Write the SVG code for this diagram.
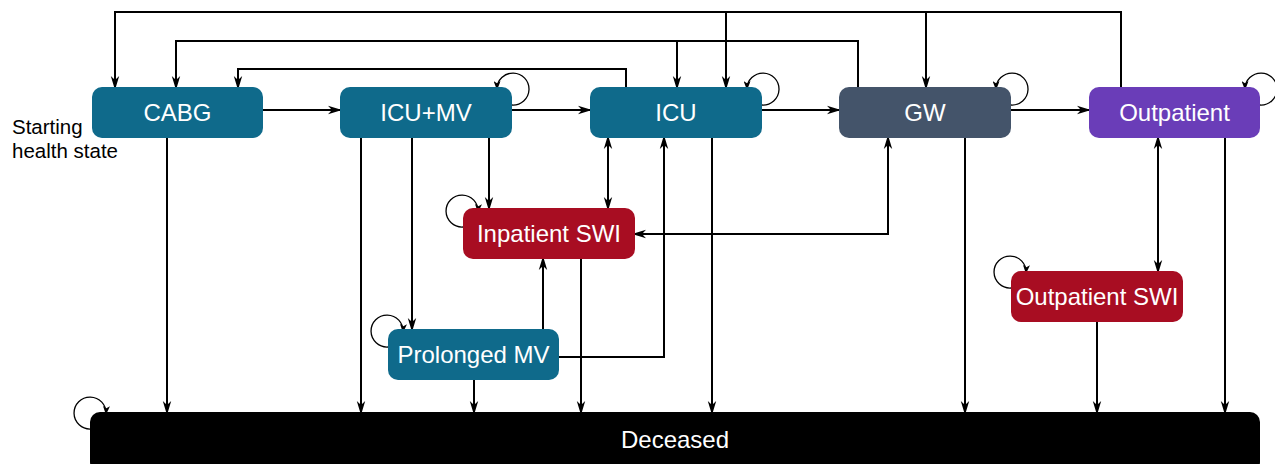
<svg xmlns="http://www.w3.org/2000/svg" width="1275" height="464" viewBox="0 0 1275 464">
  <style>
    .node text { font-family: "Liberation Sans", Arial, sans-serif; font-size: 24px; fill: #ffffff; text-anchor: middle; }
    .teal { fill: #0f6a8b; }
    .slate { fill: #44546a; }
    .purple { fill: #6a3db8; }
    .red { fill: #a80d22; }
    .black { fill: #000000; }
    .conn { fill: none; stroke: #000; stroke-width: 2; }
    .loop { fill: none; stroke: #000; stroke-width: 1.3; }
    .label { font-family: "Liberation Sans", Arial, sans-serif; font-size: 20.5px; fill: #000; }
  </style>
  <defs>
    <marker id="ah" viewBox="0 0 14 10" refX="13" refY="5" markerWidth="14" markerHeight="10" orient="auto-start-reverse" markerUnits="userSpaceOnUse">
      <path d="M0,0.8 L14,5 L0,9.2 L4,5 Z" fill="#000"/>
    </marker>
    <marker id="ahs" viewBox="0 0 10 8" refX="9" refY="4" markerWidth="9" markerHeight="7" orient="auto" markerUnits="userSpaceOnUse">
      <path d="M0,0 L10,4 L0,8 L2.5,4 Z" fill="#000"/>
    </marker>
  </defs>
  <rect width="1275" height="464" fill="#ffffff"/>

  <text class="label" x="12" y="134">Starting</text>
  <text class="label" x="12" y="158">health state</text>

  <g id="node-deceased" class="node">
    <rect class="black" x="90" y="412" width="1170" height="60" rx="10"/>
    <text x="675" y="448">Deceased</text>
  </g>

  <g id="connectors">
    <path class="conn" d="M263,110 H341" marker-end="url(#ah)"/>
    <path class="conn" d="M512,110 H591" marker-end="url(#ah)"/>
    <path class="conn" d="M762,110 H840" marker-end="url(#ah)"/>
    <path class="conn" d="M1011,110 H1090" marker-end="url(#ah)"/>
    <path class="conn" d="M1121,87 V12 H115 V89" marker-end="url(#ah)"/>
    <path class="conn" d="M726,12 V89" marker-end="url(#ah)"/>
    <path class="conn" d="M926,12 V89" marker-end="url(#ah)"/>
    <path class="conn" d="M858,87 V41 H176 V89" marker-end="url(#ah)"/>
    <path class="conn" d="M677,41 V89" marker-end="url(#ah)"/>
    <path class="conn" d="M626,87 V69 H238 V89" marker-end="url(#ah)"/>
    <path class="conn" d="M167,138 V414" marker-end="url(#ah)"/>
    <path class="conn" d="M361,138 V414" marker-end="url(#ah)"/>
    <path class="conn" d="M412,138 V331" marker-end="url(#ah)"/>
    <path class="conn" d="M489,138 V210" marker-end="url(#ah)"/>
    <path class="conn" d="M608,136 V210" marker-start="url(#ah)" marker-end="url(#ah)"/>
    <path class="conn" d="M559,357 H664 V136" marker-end="url(#ah)"/>
    <path class="conn" d="M543,329 V257" marker-end="url(#ah)"/>
    <path class="conn" d="M474,380 V414" marker-end="url(#ah)"/>
    <path class="conn" d="M581,259 V414" marker-end="url(#ah)"/>
    <path class="conn" d="M712,138 V414" marker-end="url(#ah)"/>
    <path class="conn" d="M633,234 H888 V136" marker-start="url(#ah)" marker-end="url(#ah)"/>
    <path class="conn" d="M965,138 V414" marker-end="url(#ah)"/>
    <path class="conn" d="M1158,136 V273" marker-start="url(#ah)" marker-end="url(#ah)"/>
    <path class="conn" d="M1097,322 V414" marker-end="url(#ah)"/>
    <path class="conn" d="M1225,138 V414" marker-end="url(#ah)"/>
    <!-- self loops -->
    <path class="loop" d="M512,105 A16,16 0 1 0 497,89" marker-end="url(#ahs)"/>
    <path class="loop" d="M762,105 A16,16 0 1 0 747,89" marker-end="url(#ahs)"/>
    <path class="loop" d="M1011,105 A16,16 0 1 0 996,89" marker-end="url(#ahs)"/>
    <path class="loop" d="M1260,105 A16,16 0 1 0 1245,89" marker-end="url(#ahs)"/>
    <path class="loop" d="M463,227 A16,16 0 1 1 478,212" marker-end="url(#ahs)"/>
    <path class="loop" d="M388,347 A16,16 0 1 1 403,332" marker-end="url(#ahs)"/>
    <path class="loop" d="M1011,288 A16,16 0 1 1 1026,273" marker-end="url(#ahs)"/>
    <path class="loop" d="M91,429 A16,16 0 1 1 106,414" marker-end="url(#ahs)"/>
  </g>

  <g id="node-cabg" class="node">
    <rect class="teal" x="92" y="87" width="171" height="51" rx="10"/>
    <text x="177.5" y="121">CABG</text>
  </g>
  <g id="node-icumv" class="node">
    <rect class="teal" x="340" y="87" width="172" height="51" rx="10"/>
    <text x="426" y="121">ICU+MV</text>
  </g>
  <g id="node-icu" class="node">
    <rect class="teal" x="590" y="87" width="172" height="51" rx="10"/>
    <text x="676" y="121">ICU</text>
  </g>
  <g id="node-gw" class="node">
    <rect class="slate" x="839" y="87" width="172" height="51" rx="10"/>
    <text x="925" y="121">GW</text>
  </g>
  <g id="node-outpatient" class="node">
    <rect class="purple" x="1089" y="87" width="171" height="51" rx="10"/>
    <text x="1174.5" y="121">Outpatient</text>
  </g>
  <g id="node-inpatient-swi" class="node">
    <rect class="red" x="463" y="208" width="172" height="51" rx="10"/>
    <text x="549" y="242">Inpatient SWI</text>
  </g>
  <g id="node-prolonged-mv" class="node">
    <rect class="teal" x="388" y="329" width="171" height="51" rx="10"/>
    <text x="473.5" y="363">Prolonged MV</text>
  </g>
  <g id="node-outpatient-swi" class="node">
    <rect class="red" x="1011" y="271" width="172" height="51" rx="10"/>
    <text x="1097" y="305">Outpatient SWI</text>
  </g>
</svg>
